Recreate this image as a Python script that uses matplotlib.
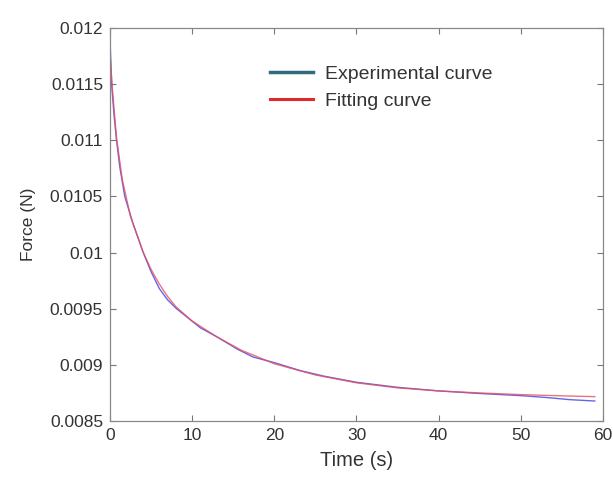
import numpy as np
import matplotlib
matplotlib.use('Agg')
import matplotlib.pyplot as plt
from matplotlib.lines import Line2D
from matplotlib.ticker import FuncFormatter

# values
t_exp = [0, 0.05, 0.2, 0.5, 0.8, 1.2, 1.8, 2.8, 4.05, 5, 6, 7, 8.1, 9.3, 11, 13, 15.5,
         17.4, 20, 23.1, 26, 30, 35, 40, 45, 50, 53, 56, 59]
f_exp = [0.01200, 0.01180, 0.01150, 0.01122, 0.01100, 0.01076, 0.01050, 0.01026,
         0.01000, 0.00983, 0.00968, 0.00958, 0.00950, 0.00943, 0.00933, 0.00925,
         0.00914, 0.00907, 0.00902, 0.00895, 0.00890, 0.008845, 0.00880, 0.008768,
         0.008745, 0.008726, 0.00871, 0.00869, 0.008678]

t_fit = [0, 0.3, 0.8, 1.5, 2.5, 4, 5, 6, 7, 8, 10, 13, 16, 20, 25, 30, 35, 40, 45, 50, 55, 59]
f_fit = [0.01178, 0.01145, 0.01102, 0.01065, 0.01032, 0.01001, 0.00985, 0.00972,
         0.00961, 0.00952, 0.00939, 0.00925, 0.00913, 0.00901, 0.00891, 0.00884,
         0.008795, 0.008768, 0.00875, 0.008735, 0.008724, 0.008717]

labels = ['Experimental curve', 'Fitting curve']

plt.rcParams['font.family'] = ['Liberation Sans', 'DejaVu Sans']

fig = plt.figure(figsize=(6.13, 4.8), dpi=100)
ax = fig.add_axes([0.1794, 0.1229, 0.8043, 0.8188])

ax.plot(t_exp, f_exp, color='#4a4ae6', lw=1.0, alpha=0.85)
ax.plot(t_fit, f_fit, color='#e8505a', lw=1.0, alpha=0.8)

ax.set_xlim(0, 60)
ax.set_ylim(0.0085, 0.012)
ax.set_xticks(np.arange(0, 61, 10))
ax.set_yticks(np.arange(0.0085, 0.01201, 0.0005))
ax.yaxis.set_major_formatter(FuncFormatter(lambda v, p: f'{v:g}'))

ax.tick_params(direction='in', top=True, right=True, length=4, width=0.8,
               color='#777777', labelsize=12.5, labelcolor='#333333', pad=5)
for s in ax.spines.values():
    s.set_color('#888888')
    s.set_linewidth(0.9)

ax.set_xlabel('Time (s)', fontsize=14.5, color='#333333', labelpad=6)
ax.set_ylabel('Force (N)', fontsize=12.5, color='#333333', labelpad=10)

handles = [Line2D([], [], color='#2f6b7c', lw=2.5),
           Line2D([], [], color='#e02828', lw=2.2)]
leg = ax.legend(handles, labels, loc='upper left', bbox_to_anchor=(0.29, 0.95),
                frameon=False, fontsize=14, handlelength=2.2, handletextpad=0.6,
                labelspacing=0.5)
for txt in leg.get_texts():
    txt.set_color('#333333')

fig.savefig('out.png', dpi=100, facecolor='white')
